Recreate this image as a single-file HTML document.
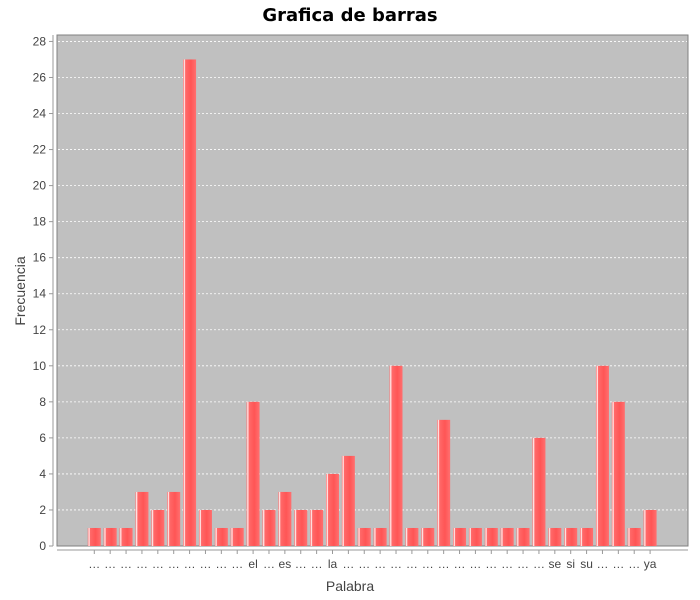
<!DOCTYPE html>
<html><head><meta charset="utf-8"><style>
body{margin:0;background:#fff;}
svg{display:block;font-family:"Liberation Sans","DejaVu Sans",sans-serif;}
</style></head><body>
<svg id="chart" width="700" height="600">
<defs>
<linearGradient id="bg" x1="0" x2="1" y1="0" y2="0">
<stop offset="0" stop-color="#ff5a5a"/>
<stop offset="0.1" stop-color="#ffffff"/>
<stop offset="0.18" stop-color="#ff6a6a"/>
<stop offset="0.6" stop-color="#ff5555"/>
<stop offset="1" stop-color="#ff7070"/>
</linearGradient>
</defs>
<text x="350" y="21" text-anchor="middle" font-size="18" font-weight="bold" fill="#000" style="font-family:'DejaVu Sans',sans-serif">Grafica de barras</text>
<rect x="57" y="35" width="631" height="511" fill="#c0c0c0" stroke="#808080" stroke-width="1"/>
<g id="grid"></g><g id="bars"></g><g id="yaxis"></g><g id="xaxis"></g>
<text x="350" y="591" text-anchor="middle" font-size="14" fill="#444">Palabra</text>
<text transform="translate(25,291) rotate(-90)" text-anchor="middle" font-size="14" fill="#444">Frecuencia</text>
</svg>
<script>
const categories=["…","…","…","…","…","…","…","…","…","…","el","…","es","…","…","la","…","…","…","…","…","…","…","…","…","…","…","…","…","se","si","su","…","…","…","ya"];
const values=[1,1,1,3,2,3,27,2,1,1,8,2,3,2,2,4,5,1,1,10,1,1,7,1,1,1,1,1,6,1,1,1,10,8,1,2];
const yTicks=[0,2,4,6,8,10,12,14,16,18,20,22,24,26,28];
const NS="http://www.w3.org/2000/svg";
const y=v=>546-v*18.02;
const x=i=>94.3+i*15.88;
function mk(t,a,p){const e=document.createElementNS(NS,t);for(const k in a)e.setAttribute(k,a[k]);p.appendChild(e);return e;}
const grid=document.getElementById('grid'),bars=document.getElementById('bars'),ya=document.getElementById('yaxis'),xa=document.getElementById('xaxis');
mk('line',{x1:53,x2:53,y1:35,y2:546,stroke:'#999'},ya);
yTicks.forEach(v=>{
 if(v>0){const g=mk('line',{x1:58,x2:687,y1:y(v),y2:y(v),stroke:'#fff','stroke-dasharray':'2,2','stroke-width':0.8},grid);
 
 }
 mk('line',{x1:49,x2:53,y1:y(v),y2:y(v),stroke:'#999'},ya);
 const t=mk('text',{x:46,y:y(v)+4,'text-anchor':'end','font-size':12,fill:'#444'},ya);t.textContent=v;
 
 
});
mk('line',{x1:57,x2:688,y1:550,y2:550,stroke:'#999'},xa);
values.forEach((v,i)=>{
 const r=mk('rect',{x:x(i)-6.5,y:y(v),width:13,height:546-y(v),fill:'url(#bg)'},bars);
 
 
 mk('line',{x1:x(i),x2:x(i),y1:550,y2:554,stroke:'#999'},xa);
 const t=mk('text',{x:x(i),y:568,'text-anchor':'middle','font-size':12,fill:'#444'},xa);t.textContent=categories[i];
 
 
});
</script>
</body></html>
